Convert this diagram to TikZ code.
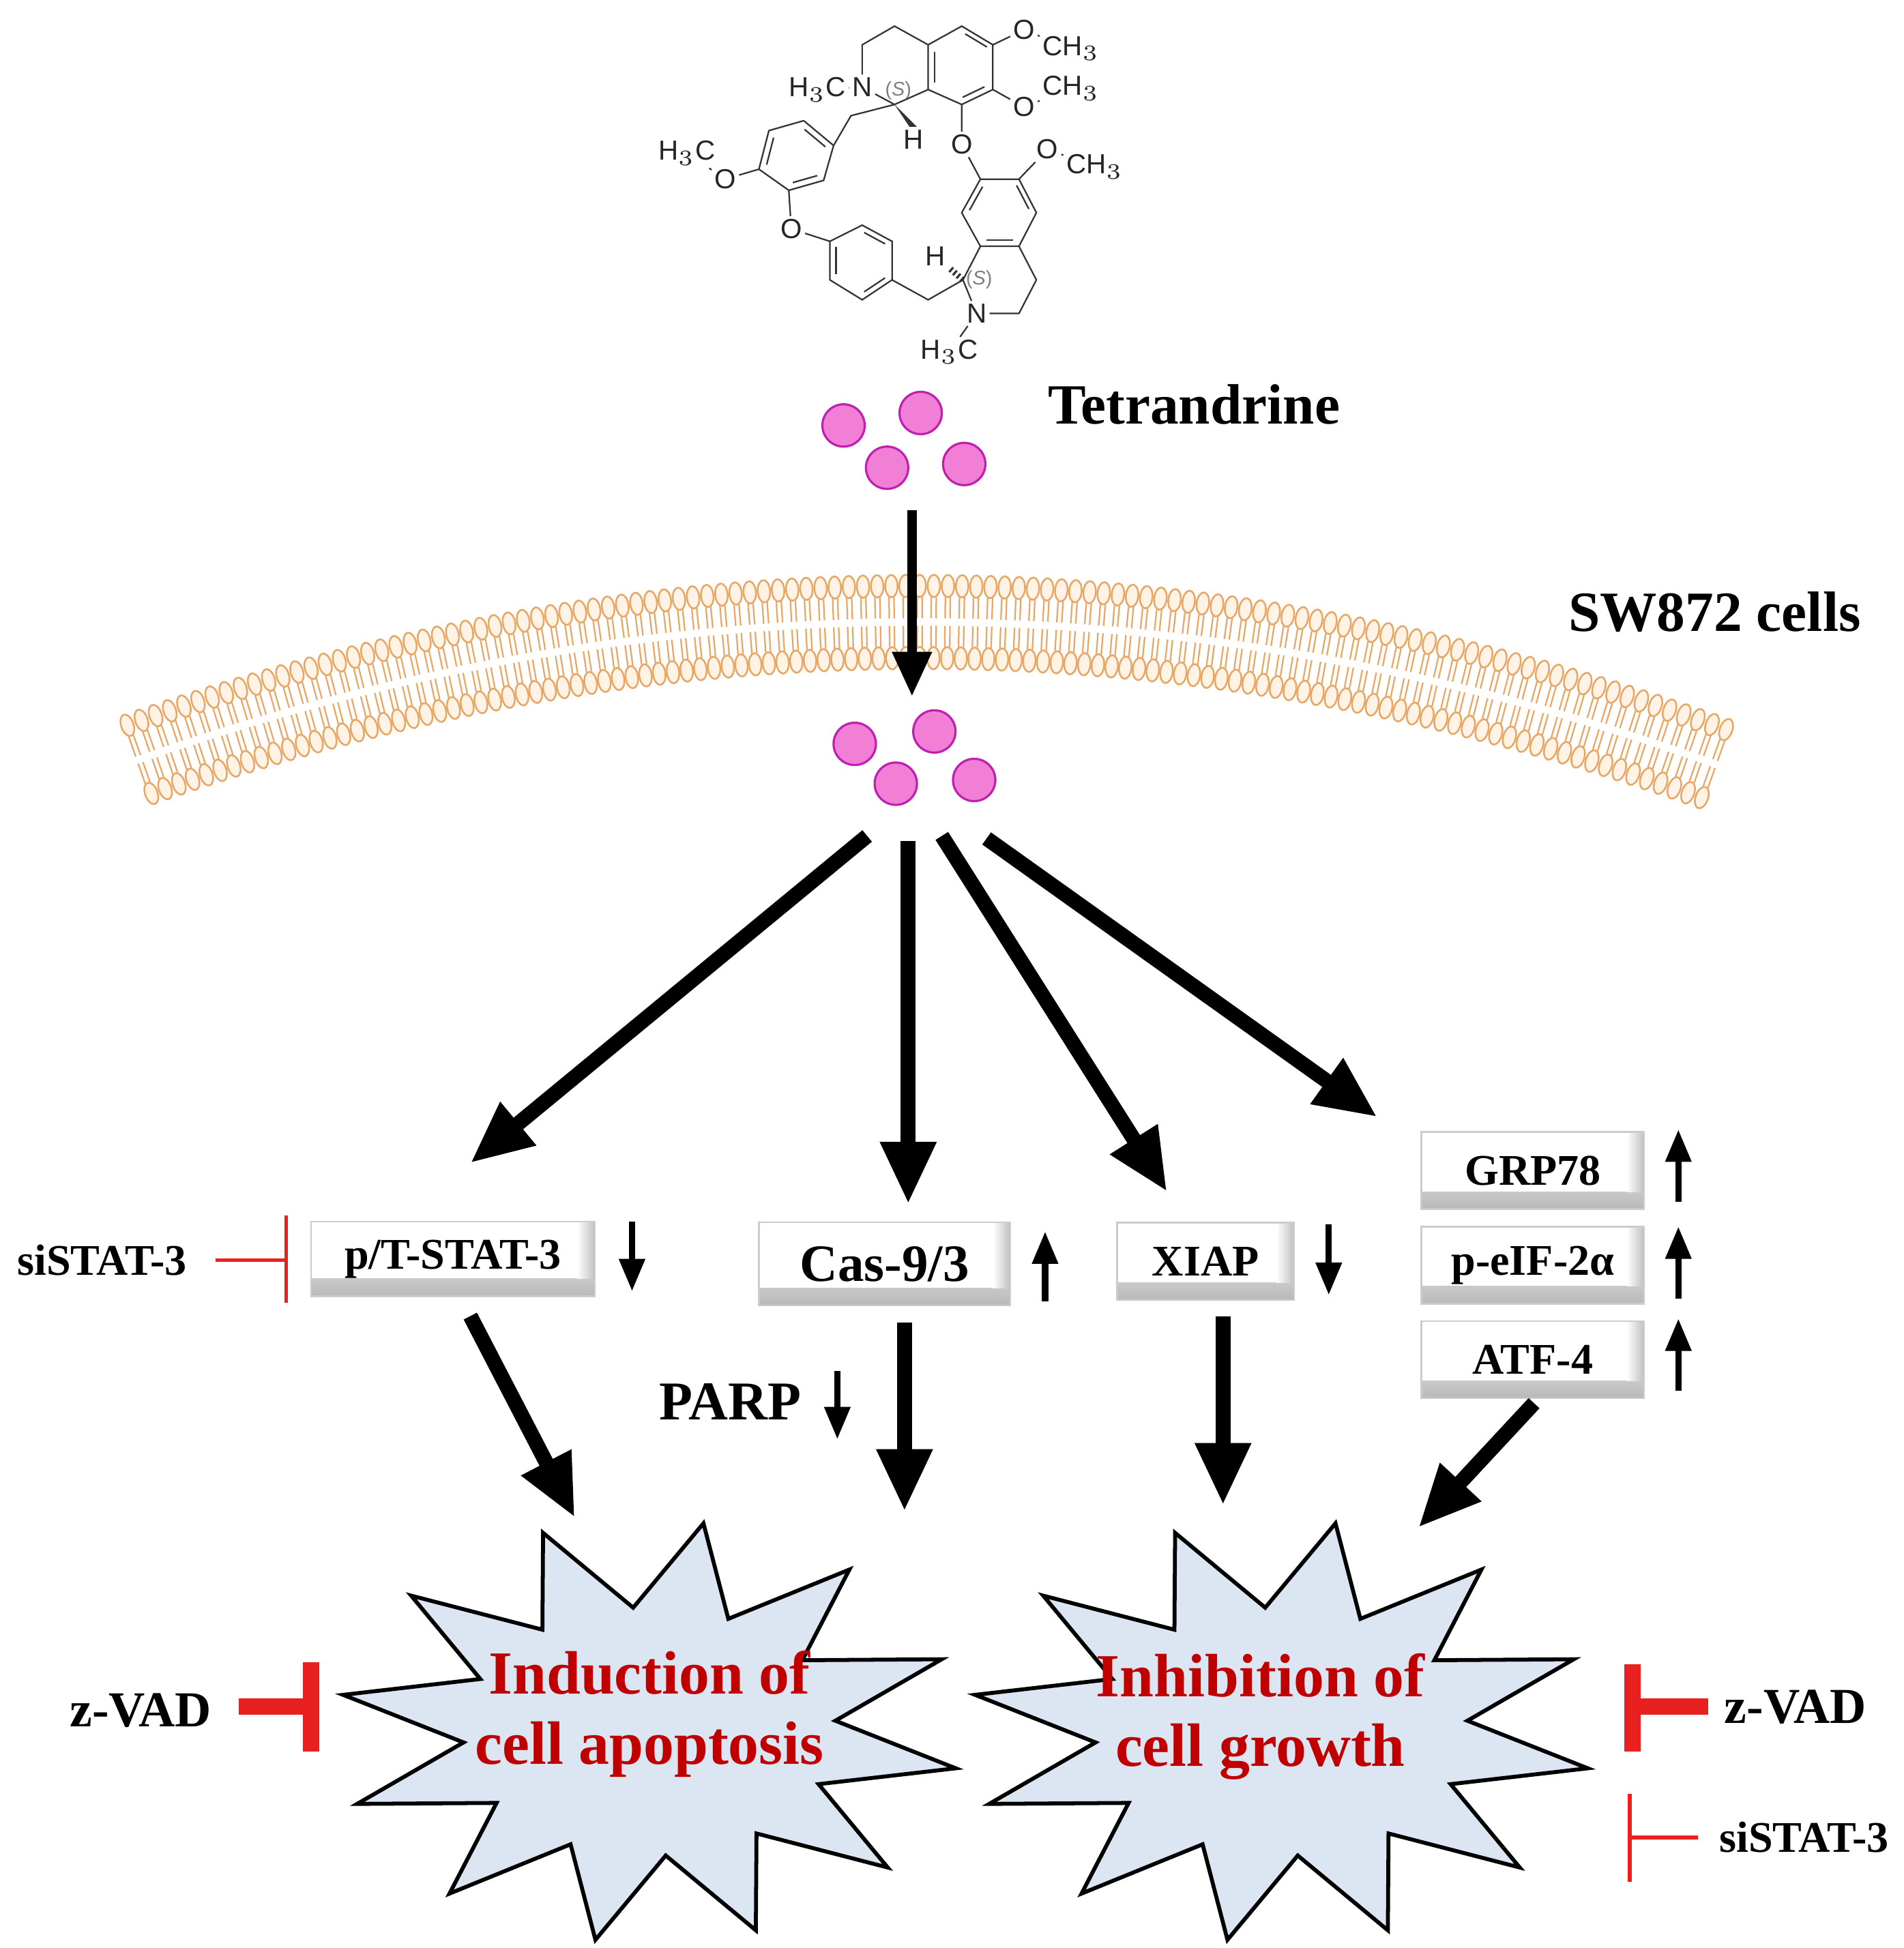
\documentclass[tikz,border=0pt]{standalone}
\usepackage{fontspec}
\setmainfont{Liberation Serif}
\newfontfamily\molfont{Liberation Sans}
\usetikzlibrary{arrows.meta,calc}
\definecolor{pinkf}{HTML}{F27FD6}
\definecolor{pinkd}{HTML}{C020B0}
\definecolor{memb}{HTML}{E9A765}
\definecolor{membf}{HTML}{FFF3E6}
\definecolor{starf}{HTML}{DCE6F2}
\definecolor{dred}{HTML}{C00000}
\definecolor{inh}{HTML}{E82020}
\tikzset{
  bond/.style={line width=0.35pt,black!80},
  atom/.style={font=\molfont\fontsize{6.3}{7}\selectfont,inner sep=0.5pt,text=black!85},
  mol/.style={circle,minimum size=0.34cm,inner sep=0,fill=pinkf,draw=pinkd,line width=0.5pt},
  big/.style={line width=0.12cm,-{Triangle[length=0.5cm,width=0.42cm]}},
  small/.style={line width=0.05cm,-{Triangle[length=0.26cm,width=0.2cm]}},
  lab/.style={font=\bfseries\fontsize{13}{15}\selectfont},
  btn/.style={draw=gray!40,fill=white,inner sep=0,font=\bfseries\fontsize{10}{12}\selectfont,
    path picture={
      \shade[top color=white,bottom color=gray!55] ([yshift=4pt]path picture bounding box.south west) rectangle (path picture bounding box.south east);
      \shade[left color=white,right color=gray!50] ([xshift=-4pt]path picture bounding box.north east) rectangle ([yshift=4pt]path picture bounding box.south east);
    }},
  star/.style={fill=starf,draw=black,line width=0.9pt,line join=miter},
  outtxt/.style={font=\bfseries\fontsize{14}{16}\selectfont,text=dred,align=center},
  inhthin/.style={draw=inh,line width=0.9pt},
  inhthick/.style={draw=inh,line width=0.13cm},
}
\begin{document}
\begin{tikzpicture}[x=0.01cm,y=-0.01cm]
\useasboundingbox (0,0) rectangle (1530,1566);
% ---- molecule ----
\foreach \n/\x/\y in {c1/693/36,c2/719/21,c3/746/36,N/693/70,C1/719/84,c4/746/72,
 b1/773/21,b2/798/36,b3/798/72,b4/773/84,O1/823/24,O2/823/86,O3/773/116,
 m1/684/93,r1/646/97,r2/670/117,r3/662/145,r4/634/153,r5/610/136,r6/618/105,O4/583/144,
 O6/636/184,d1/667/194,d2/693/181,d3/717/194,d4/717/225,d5/693/241,d6/667/225,m2/746/241,
 Cp/774/225,e1/788/144,e2/819/144,e3/833/171,e4/819/198,e5/788/198,e6/773/171,O5/842/120,
 f1/819/252,f2/833/225,Np/785/252,Hp/752/206,H1/734/112}
 {\coordinate (\n) at (\x,\y);}
\node[atom] (tN) at (N) {N};
\node[atom] (tO1) at (O1) {O};
\node[atom] (tO2) at (O2) {O};
\node[atom] (tO3) at (O3) {O};
\node[atom] (tO4) at (O4) {O};
\node[atom] (tO5) at (O5) {O};
\node[atom] (tO6) at (O6) {O};
\node[atom] (tNp) at (Np) {N};
\node[atom] (tH1) at (H1) {H};
\node[atom] (tHp) at (Hp) {H};
\node[atom] (me1) at (861,39) {CH$_3$};
\node[atom] (me2) at (861,71) {CH$_3$};
\node[atom] (me3) at (880,134) {CH$_3$};
\node[atom] (me4) at (657,72) {H$_3$C};
\node[atom] (me5) at (552,123) {H$_3$C};
\node[atom] (me6) at (763,283) {H$_3$C};
\node[atom,font=\molfont\fontsize{4.5}{5}\selectfont,text=gray] at (722,73) {(\textit{S})};
\node[atom,font=\molfont\fontsize{4.5}{5}\selectfont,text=gray] at (787,225) {(\textit{S})};
\draw[bond] (tN)--(c1)--(c2)--(c3)--(c4)--(C1)--(tN);
\draw[bond] (c3)--(b1)--(b2)--(b3)--(b4)--(c4);
\draw[bond] ($(c3)!0.15!(c4)+(5,0)$)--($(c3)!0.85!(c4)+(5,0)$);
\draw[bond] ($(b1)!0.15!(b2)+(-1,4)$)--($(b1)!0.85!(b2)+(-1,4)$);
\draw[bond] ($(b3)!0.15!(b4)+(-3,-4)$)--($(b3)!0.85!(b4)+(-3,-4)$);
\draw[bond] (b2)--(tO1)--(me1); \draw[bond] (b3)--(tO2)--(me2);
\draw[bond] (b4)--(tO3)--(e1);
\draw[bond] (me4)--(tN);
\fill[black!80] (C1) -- ($(tH1.north)+(-3,0)$) -- ($(tH1.north)+(3,0)$) -- cycle;
\draw[bond] (C1)--(m1)--(r2);
\draw[bond] (r1)--(r2)--(r3)--(r4)--(r5)--(r6)--(r1);
\draw[bond] ($(r1)!0.15!(r2)+(-3,4)$)--($(r1)!0.85!(r2)+(-3,4)$);
\draw[bond] ($(r3)!0.15!(r4)+(-1,-5)$)--($(r3)!0.85!(r4)+(-1,-5)$);
\draw[bond] ($(r5)!0.15!(r6)+(5,1)$)--($(r5)!0.85!(r6)+(5,1)$);
\draw[bond] (r5)--(tO4)--(me5);
\draw[bond] (r4)--(tO6)--(d1);
\draw[bond] (d1)--(d2)--(d3)--(d4)--(d5)--(d6)--(d1);
\draw[bond] ($(d2)!0.15!(d3)+(-2,4)$)--($(d2)!0.85!(d3)+(-2,4)$);
\draw[bond] ($(d4)!0.15!(d5)+(-2,-4)$)--($(d4)!0.85!(d5)+(-2,-4)$);
\draw[bond] ($(d6)!0.15!(d1)+(5,0)$)--($(d6)!0.85!(d1)+(5,0)$);
\draw[bond] (d4)--(m2)--(Cp);
\draw[bond] (e1)--(e2)--(e3)--(e4)--(e5)--(e6)--(e1);
\draw[bond] ($(e2)!0.15!(e3)+(-4,1)$)--($(e2)!0.85!(e3)+(-4,1)$);
\draw[bond] ($(e4)!0.15!(e5)+(0,-5)$)--($(e4)!0.85!(e5)+(0,-5)$);
\draw[bond] ($(e6)!0.15!(e1)+(4,2)$)--($(e6)!0.85!(e1)+(4,2)$);
\draw[bond] (e2)--(tO5)--(me3);
\draw[bond] (e5)--(Cp)--(tNp)--(f1)--(f2)--(e4);
\draw[bond] (tNp)--(me6);
\draw[bond,dash pattern=on 0.5pt off 0.6pt,line width=1.4pt] (Cp)--(tHp);
% ---- tetrandrine outside ----
\node[mol] (p1) at (678,342) {}; \node[mol] (p2) at (740,332) {};
\node[mol] (p3) at (713,376) {}; \node[mol] (p4) at (775,373) {};
\node[lab,anchor=west] (tet) at (830,325) {Tetrandrine};
% ---- membrane ----
\foreach \i in {0,...,113} {
  \pgfmathsetmacro\dd{(112+\i*11.2-740)/100}
  \pgfmathsetmacro\xx{112+\i*11.2}
  \pgfmathsetmacro\yc{500+2.8*\dd*\dd}
  \pgfmathsetmacro\an{atan(0.056*\dd)}
  \begin{scope}[shift={(\xx,\yc)},rotate=-\an]
    \draw[memb,line width=0.35pt] (-2,-20)--(-2,-3) (2,-20)--(2,-3) (-2,20)--(-2,3) (2,20)--(2,3);
    \draw[memb,fill=membf,line width=0.4pt] (0,-29) ellipse (5 and 9);
    \draw[memb,fill=membf,line width=0.4pt] (0,29) ellipse (5 and 9);
  \end{scope}
}
\node[lab,anchor=east] (sw) at (1508,492) {SW872 cells};
% ---- inside ----
\node[mol] (q1) at (687,598) {}; \node[mol] (q2) at (751,588) {};
\node[mol] (q3) at (720,630) {}; \node[mol] (q4) at (783,627) {};
\coordinate (in) at (733,410); \coordinate (inE) at (733,560);
\draw[line width=0.08cm,-{Triangle[length=0.36cm,width=0.3cm]}] (in)--(inE);
% ---- boxes ----
\node[btn,minimum width=2.28cm,minimum height=0.6cm] (stat) at (364,1012) {p/T-STAT-3};
\node[btn,minimum width=2.02cm,minimum height=0.67cm,font=\bfseries\fontsize{12}{14}\selectfont] (cas) at (711,1016) {Cas-9/3};
\node[btn,minimum width=1.42cm,minimum height=0.62cm] (xiap) at (969,1014) {XIAP};
\node[btn,minimum width=1.79cm,minimum height=0.62cm] (grp) at (1232,941) {GRP78};
\node[btn,minimum width=1.79cm,minimum height=0.62cm] (eif) at (1232,1017) {p-eIF-2α};
\node[btn,minimum width=1.79cm,minimum height=0.62cm] (atf) at (1232,1093) {ATF-4};
% arrows from cluster
\coordinate (s1) at (697,672); \coordinate (t1) at (378,935);
\coordinate (s2) at (730,676); \coordinate (t2) at (730,968);
\coordinate (s3) at (757,672); \coordinate (t3) at (938,958);
\coordinate (s4) at (793,674); \coordinate (t4) at (1107,898);
\draw[big] (s1)--(t1); \draw[big] (s2)--(t2); \draw[big] (s3)--(t3); \draw[big] (s4)--(t4);
% small indicator arrows
\coordinate (a1s) at (508,982); \coordinate (a1e) at (508,1038);
\coordinate (a2s) at (840,1046); \coordinate (a2e) at (840,990);
\coordinate (a3s) at (1068,984); \coordinate (a3e) at (1068,1041);
\coordinate (a4s) at (1349,966); \coordinate (a4e) at (1349,908);
\coordinate (a5s) at (1349,1044); \coordinate (a5e) at (1349,986);
\coordinate (a6s) at (1349,1118); \coordinate (a6e) at (1349,1060);
\coordinate (a7s) at (673,1102); \coordinate (a7e) at (673,1157);
\foreach \k in {1,...,7} {\draw[small] (a\k s)--(a\k e);}
\node[lab,font=\bfseries\fontsize{12.5}{14}\selectfont] (parp) at (587,1127) {PARP};
% ---- stars ----
\draw[star,shift={(522,1392)}] (100:250 and 170)
  \foreach \i [evaluate=\i as \a using 100+\i*30] in {1,...,11} { -- (\a-15:150 and 100) -- (\a:250 and 170)} -- (85:150 and 100) -- cycle;
\draw[star,shift={(1030,1392)}] (100:250 and 170)
  \foreach \i [evaluate=\i as \a using 100+\i*30] in {1,...,11} { -- (\a-15:150 and 100) -- (\a:250 and 170)} -- (85:150 and 100) -- cycle;
\node[outtxt] (apo) at (522,1378) {Induction of\\cell apoptosis};
\node[outtxt] (gro) at (1013,1380) {Inhibition of\\cell growth};
% arrows to stars
\coordinate (u1) at (378,1058); \coordinate (v1) at (462,1220);
\coordinate (u2) at (727,1063); \coordinate (v2) at (727,1215);
\coordinate (u3) at (983,1058); \coordinate (v3) at (983,1210);
\coordinate (u4) at (1233,1128); \coordinate (v4) at (1140,1228);
\draw[big] (u1)--(v1); \draw[big] (u2)--(v2); \draw[big] (u3)--(v3); \draw[big] (u4)--(v4);
% ---- inhibitors ----
\node[font=\bfseries\fontsize{10}{12}\selectfont] (si1) at (82,1013) {siSTAT-3};
\coordinate (i1) at (173,1013); \coordinate (b1t) at (230,977); \coordinate (b1b) at (230,1047);
\draw[inhthin] (i1)--(230,1013); \draw[inhthin] (b1t)--(b1b);
\node[font=\bfseries\fontsize{11.5}{13}\selectfont] (zv1) at (113,1375) {z-VAD};
\coordinate (i2) at (192,1372); \coordinate (b2t) at (250,1336); \coordinate (b2b) at (250,1408);
\draw[inhthick] (i2)--(250,1372); \draw[inhthick] (b2t)--(b2b);
\node[font=\bfseries\fontsize{11.5}{13}\selectfont] (zv2) at (1443,1372) {z-VAD};
\coordinate (i3) at (1373,1372); \coordinate (b3t) at (1312,1338); \coordinate (b3b) at (1312,1408);
\draw[inhthick] (i3)--(1312,1372); \draw[inhthick] (b3t)--(b3b);
\node[font=\bfseries\fontsize{10}{12}\selectfont] (si2) at (1450,1477) {siSTAT-3};
\coordinate (i4) at (1365,1477); \coordinate (b4t) at (1310,1442); \coordinate (b4b) at (1310,1513);
\draw[inhthin] (i4)--(1310,1477); \draw[inhthin] (b4t)--(b4b);
\end{tikzpicture}
\end{document}
